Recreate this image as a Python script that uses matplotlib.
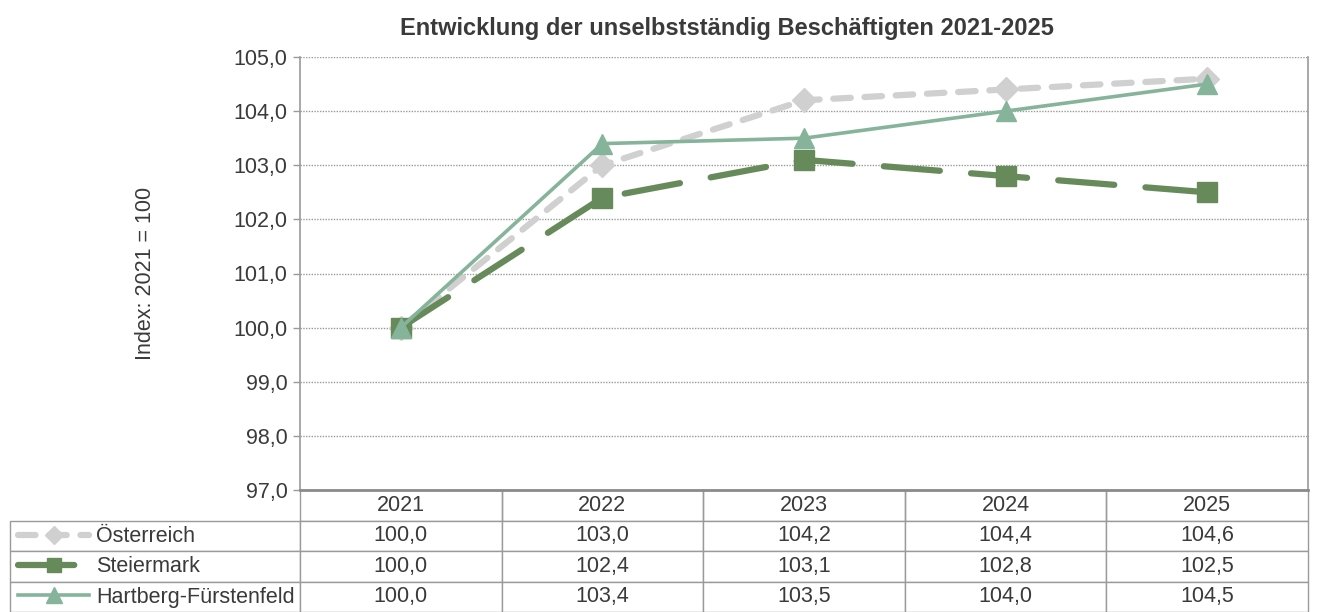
import matplotlib
matplotlib.use('Agg')
import matplotlib.pyplot as plt
from matplotlib.ticker import FuncFormatter

plt.rcParams['font.family'] = ['Liberation Sans', 'DejaVu Sans']

# data
years = ['2021', '2022', '2023', '2024', '2025']
oesterreich = [100.0, 103.0, 104.2, 104.4, 104.6]
steiermark = [100.0, 102.4, 103.1, 102.8, 102.5]
hartberg = [100.0, 103.4, 103.5, 104.0, 104.5]
series_names = ['Österreich', 'Steiermark', 'Hartberg-Fürstenfeld']

c_oe = '#d0d0d0'
c_st = '#678a5b'
c_hf = '#86b49b'
grid_c = '#9a9a9a'
txt_c = '#3a3a3a'
fs = 15.5

fig = plt.figure(figsize=(13.17, 6.12), dpi=100)
ax = fig.add_axes([300 / 1317, 1 - 490 / 612, 1008 / 1317, 433 / 612])

x = list(range(len(years)))

ax.plot(x, oesterreich, color=c_oe, lw=4.5, dashes=(2.8, 2.2), dash_capstyle='round',
        marker='D', ms=12, mec=c_oe, mfc=c_oe, label=series_names[0], zorder=3)
ax.plot(x, steiermark, color=c_st, lw=4.5, dashes=(9.0, 5.0), dash_capstyle='round',
        marker='s', ms=14, mec=c_st, mfc=c_st, label=series_names[1], zorder=4)
ax.plot(x, hartberg, color=c_hf, lw=2.6, marker='^', ms=15,
        mec=c_hf, mfc=c_hf, label=series_names[2], zorder=5)

ax.set_xlim(-0.5, len(years) - 0.5)
ax.set_ylim(97, 105)
ax.set_yticks([97, 98, 99, 100, 101, 102, 103, 104, 105])
ax.yaxis.set_major_formatter(FuncFormatter(lambda v, p: f'{v:.1f}'.replace('.', ',')))
ax.set_xticks([])
ax.tick_params(axis='y', direction='out', length=5, width=1, color=grid_c,
               labelsize=fs, labelcolor=txt_c, pad=4)
ax.yaxis.grid(True, linestyle=(0, (1, 1)), color=grid_c, lw=1)
ax.set_axisbelow(True)

for side in ['left', 'right']:
    ax.spines[side].set_color(grid_c)
    ax.spines[side].set_linewidth(1.2)
ax.spines['top'].set_visible(False)
ax.spines['bottom'].set_color('#8a8a8a')
ax.spines['bottom'].set_linewidth(2)

ax.set_ylabel('Index: 2021 = 100', fontsize=fs, color=txt_c)
ax.yaxis.set_label_coords(-0.143, 0.5)

fig.text(727 / 1317, 1 - 28 / 612, 'Entwicklung der unselbstständig Beschäftigten 2021-2025',
         ha='center', va='center', fontsize=17, fontweight='bold', color=txt_c)

# data table below the axes
fmt = lambda v: f'{v:.1f}'.replace('.', ',')
cell_text = [[''] + [fmt(v) for v in s] for s in (oesterreich, steiermark, hartberg)]
col_labels = [''] + years
label_w = 290 / 1008
tab = ax.table(cellText=cell_text, colLabels=col_labels,
               colWidths=[label_w] + [0.2] * len(years),
               cellLoc='center', bbox=[-label_w, -122 / 433, 1 + label_w, 122 / 433])
tab.auto_set_font_size(False)
tab.set_fontsize(fs)
for (r, c), cell in tab.get_celld().items():
    cell.set_edgecolor(grid_c)
    cell.set_linewidth(1)
    cell.get_text().set_color(txt_c)
    if r == 0:
        cell.visible_edges = '' if c == 0 else 'LRB'

# legend sitting in the label column of the table
ax.legend(loc='center left', bbox_to_anchor=((18 - 300) / 1008, (490 - 567) / 433),
          frameon=False, fontsize=fs, handlelength=3.3, handletextpad=0.32,
          labelspacing=0.43, borderpad=0, borderaxespad=0, numpoints=1,
          markerscale=0.75, labelcolor=txt_c)

fig.savefig('out.png', dpi=100)
